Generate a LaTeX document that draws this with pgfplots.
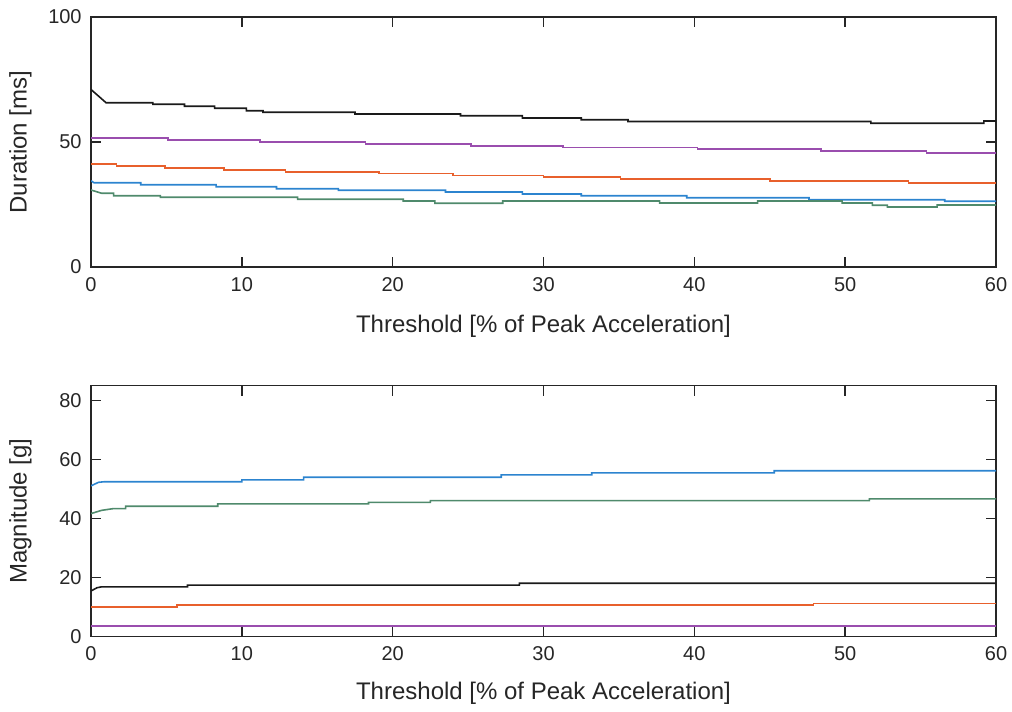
\documentclass[border=0pt]{standalone}
\usepackage{pgfplots}
\pgfplotsset{compat=1.18}
\usepackage{fontspec}
\setmainfont{Liberation Sans}
\definecolor{cblk}{HTML}{1A1A1A}
\definecolor{cpur}{HTML}{9A4EAE}
\definecolor{cora}{HTML}{E8602C}
\definecolor{cblu}{HTML}{2C84CF}
\definecolor{cgrn}{HTML}{4F8A6C}

\pgfplotsset{
  mstyle/.style={
    scale only axis,
    width=678.75pt, height=187.5pt,
    xmin=0, xmax=60, xtick={0,10,...,60},
    axis line style={line width=1.1pt, color=black!85},
    tick style={line width=1.1pt, color=black!85},
    tick align=inside,
    major tick length=7.5pt,
    xtick pos=both, ytick pos=both,
    tick label style={font=\fontsize{15}{17}\selectfont, text=black!85},
    label style={font=\fontsize{18}{21}\selectfont, text=black!85},
    xticklabel shift=4pt,
    yticklabel shift=3.5pt,
    /pgf/number format/assume math mode=true,
    every axis plot/.append style={line width=1.2pt, mark=none},
    xlabel={Threshold [\% of Peak Acceleration]},
    ylabel style={at={(axis description cs:0,0.5)}, anchor=center, yshift=53pt},
  },
}

\begin{document}
\begin{tikzpicture}[x=1pt,y=1pt]
\path[use as bounding box] (0,0) rectangle (759,533.25);

\begin{axis}[mstyle, at={(68.25pt,333pt)}, anchor=south west,
  ymin=0, ymax=100, ytick={0,50,100},
  xlabel style={at={(axis description cs:0.5,0)}, anchor=center, yshift=-44.5pt},
  ylabel={Duration [ms]}]
\addplot[cblk] coordinates {(0,71) (1,65.7) (4.1,65.7) (4.1,65.1) (6.2,65.1) (6.2,64.3) (8.2,64.3) (8.2,63.5) (10.3,63.5) (10.3,62.5) (11.4,62.5) (11.4,61.9) (17.5,61.9) (17.5,61.2) (24.5,61.2) (24.5,60.5) (28.6,60.5) (28.6,59.6) (32.5,59.6) (32.5,58.9) (35.6,58.9) (35.6,58.2) (51.7,58.2) (51.7,57.5) (59.2,57.5) (59.2,58.4) (60,58.4)};
\addplot[cpur] coordinates {(0,51.5) (5.1,51.5) (5.1,50.7) (11.2,50.7) (11.2,50.0) (18.2,50.0) (18.2,49.3) (25.2,49.3) (25.2,48.5) (31.3,48.5) (31.3,47.8) (40.2,47.8) (40.2,47.1) (48.4,47.1) (48.4,46.3) (55.4,46.3) (55.4,45.6) (60,45.6)};
\addplot[cora] coordinates {(0,41.2) (1.7,41.2) (1.7,40.3) (4.9,40.3) (4.9,39.6) (8.8,39.6) (8.8,38.9) (12.9,38.9) (12.9,38.1) (19.1,38.1) (19.1,37.4) (24.0,37.4) (24.0,36.6) (30.0,36.6) (30.0,35.9) (35.1,35.9) (35.1,35.2) (45.0,35.2) (45.0,34.5) (54.2,34.5) (54.2,33.7) (60,33.7)};
\addplot[cblu] coordinates {(0,34.5) (0.2,33.7) (3.3,33.7) (3.3,32.9) (8.3,32.9) (8.3,32.1) (12.3,32.1) (12.3,31.3) (16.4,31.3) (16.4,30.7) (23.5,30.7) (23.5,30.0) (28.6,30.0) (28.6,29.2) (32.5,29.2) (32.5,28.5) (39.5,28.5) (39.5,27.7) (47.6,27.7) (47.6,26.9) (56.6,26.9) (56.6,26.3) (60,26.3)};
\addplot[cgrn] coordinates {(0,30.8) (0.7,29.5) (1.5,29.5) (1.5,28.5) (4.6,28.5) (4.6,27.9) (13.7,27.9) (13.7,27.1) (20.7,27.1) (20.7,26.4) (22.8,26.4) (22.8,25.5) (27.3,25.5) (27.3,26.4) (37.7,26.4) (37.7,25.6) (44.2,25.6) (44.2,26.4) (49.8,26.4) (49.8,25.6) (51.8,25.6) (51.8,24.7) (52.8,24.7) (52.8,24.0) (56.1,24.0) (56.1,24.8) (60,24.8)};
\end{axis}

\begin{axis}[mstyle, at={(68.25pt,55.7pt)}, anchor=south west,
  height=188.25pt,
  ymin=0, ymax=85, ytick={0,20,...,80},
  xlabel style={at={(axis description cs:0.5,0)}, anchor=center, yshift=-42.5pt},
  ylabel={Magnitude [g]}]
\addplot[cblu] coordinates {(0,51.1) (0.5,52.3) (0.9,52.5) (10.0,52.5) (10.0,53.1) (14.1,53.1) (14.1,54.0) (27.2,54.0) (27.2,54.8) (33.2,54.8) (33.2,55.5) (45.3,55.5) (45.3,56.2) (60,56.2)};
\addplot[cgrn] coordinates {(0,41.7) (0.7,42.8) (1.5,43.4) (2.3,43.4) (2.3,44.2) (8.4,44.2) (8.4,45.0) (18.4,45.0) (18.4,45.5) (22.5,45.5) (22.5,46.1) (51.6,46.1) (51.6,46.7) (60,46.7)};
\addplot[cblk] coordinates {(0,15.5) (0.4,16.6) (0.7,16.9) (6.4,16.9) (6.4,17.5) (28.4,17.5) (28.4,18.1) (60,18.1)};
\addplot[cora] coordinates {(0,10.0) (5.7,10.0) (5.7,10.7) (47.9,10.7) (47.9,11.2) (60,11.2)};
\addplot[cpur] coordinates {(0,3.6) (60,3.6)};
\end{axis}
\end{tikzpicture}
\end{document}
